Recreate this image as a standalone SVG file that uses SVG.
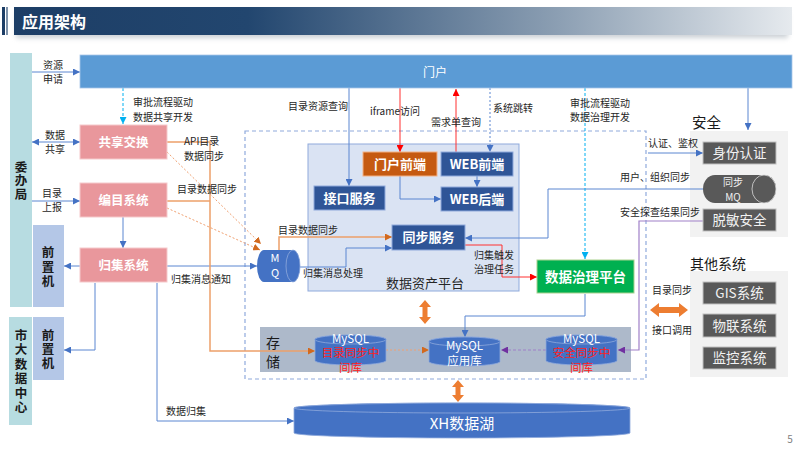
<svg xmlns="http://www.w3.org/2000/svg" width="800" height="450" viewBox="0 0 800 450">
<defs>
<linearGradient id="tg" x1="0" y1="0" x2="1" y2="0">
<stop offset="0" stop-color="#1d3e66"/>
<stop offset="0.3" stop-color="#22466f"/>
<stop offset="0.7" stop-color="#8c9fb3"/>
<stop offset="1" stop-color="#e6eaee"/>
</linearGradient>
<filter id="sh" x="-5%" y="-50%" width="110%" height="200%"><feGaussianBlur stdDeviation="2.5"/></filter>
<marker id="ab" viewBox="0 0 8 8" refX="8" refY="4" markerWidth="7" markerHeight="7" markerUnits="userSpaceOnUse" orient="auto-start-reverse"><path d="M0,0 L8,4 L0,8 z" fill="#4472c4"/></marker>
<marker id="ar" viewBox="0 0 8 8" refX="8" refY="4" markerWidth="7" markerHeight="7" markerUnits="userSpaceOnUse" orient="auto-start-reverse"><path d="M0,0 L8,4 L0,8 z" fill="#ff0000"/></marker>
<marker id="ac" viewBox="0 0 8 8" refX="8" refY="4" markerWidth="7" markerHeight="7" markerUnits="userSpaceOnUse" orient="auto-start-reverse"><path d="M0,0 L8,4 L0,8 z" fill="#00b0f0"/></marker>
<marker id="ao" viewBox="0 0 8 8" refX="8" refY="4" markerWidth="7" markerHeight="7" markerUnits="userSpaceOnUse" orient="auto-start-reverse"><path d="M0,0 L8,4 L0,8 z" fill="#d2691e"/></marker>
<marker id="ap" viewBox="0 0 8 8" refX="8" refY="4" markerWidth="7" markerHeight="7" markerUnits="userSpaceOnUse" orient="auto-start-reverse"><path d="M0,0 L8,4 L0,8 z" fill="#7030a0"/></marker>
<style>
text{font-family:"Noto Sans CJK SC","Noto Sans",sans-serif}
.lbl{font-size:10px;fill:#262626}
.pink{fill:#e9979c;stroke:#f5c9cb;stroke-width:1}
.pt{font-size:12.5px;font-weight:bold;fill:#fff;text-anchor:middle}
.dk{fill:#2f5597;stroke:#8faadc;stroke-width:1}
.dt{font-size:13px;font-weight:bold;fill:#fff;text-anchor:middle}
.gb{fill:#595959;stroke:#bfbfbf;stroke-width:1}
.gt{font-size:13.5px;fill:#f2f2f2;text-anchor:middle}
.vt{font-size:12.5px;font-weight:bold;fill:#1a1a1a;text-anchor:middle;writing-mode:vertical-rl}
.cyl{fill:#4472c4;stroke:#8faadc;stroke-width:0.8}
.my{font-size:11.5px;fill:#fff;text-anchor:middle}
.red{font-size:11.5px;fill:#ff2020;text-anchor:middle}
.lb{fill:none;stroke:#5b86d1;stroke-width:1}
.lr{fill:none;stroke:#ff3030;stroke-width:1}
.lc{fill:none;stroke:#00b0f0;stroke-width:1;stroke-dasharray:3,2}
.lo{fill:none;stroke:#eda06a;stroke-width:1.5}
.lod{fill:none;stroke:#f0a070;stroke-width:1;stroke-dasharray:2,2}
.lp{fill:none;stroke:#a080c8;stroke-width:1.2}
.oa{fill:#ed7d31}
</style>
</defs>
<rect width="800" height="450" fill="#ffffff"/>
<g id="title">
<rect x="16" y="12" width="772" height="26" fill="#9aa4ae" opacity="0.5" filter="url(#sh)"/>
<rect x="2" y="7" width="3" height="28" fill="#1d3e66"/>
<rect x="6" y="7" width="2" height="28" fill="#7f93aa"/>
<rect x="14" y="7" width="778" height="28" fill="url(#tg)"/>
<text x="22" y="28" font-size="16" font-weight="bold" fill="#ffffff">应用架构</text>
</g>
<g id="containers">
<rect id="outer" x="245" y="131" width="401" height="248" fill="none" stroke="#8faadc" stroke-width="1.2" stroke-dasharray="4,3"/>
<rect id="asset" x="308" y="144" width="211" height="147" fill="#dae3f3" stroke="#8faadc" stroke-width="1"/>
<text x="425" y="288" font-size="13" fill="#262626" text-anchor="middle">数据资产平台</text>
<rect id="storage" x="260" y="327" width="371" height="45" fill="#adb9ca"/>
<text x="273" y="348" font-size="14" fill="#1a1a1a" text-anchor="middle">存</text>
<text x="273" y="367" font-size="14" fill="#1a1a1a" text-anchor="middle">储</text>
<rect id="secbox" x="690" y="131" width="98" height="106" fill="#f2f2f2"/>
<text x="692" y="128" font-size="14.5" fill="#1a1a1a">安全</text>
<rect id="othbox" x="690" y="271" width="98" height="106" fill="#f2f2f2"/>
<text x="690" y="269" font-size="14" fill="#1a1a1a">其他系统</text>
</g>
<g id="connectors">
<path class="lb" d="M32,72 H80" marker-end="url(#ab)"/>
<path class="lb" d="M32,142 H80" marker-start="url(#ab)" marker-end="url(#ab)"/>
<path class="lb" d="M32,201 H80" marker-end="url(#ab)"/>
<path class="lb" d="M123,217 V248" marker-end="url(#ab)"/>
<path class="lb" d="M80,266 H64" marker-end="url(#ab)"/>
<path class="lb" d="M95,283 V350 H64" marker-end="url(#ab)"/>
<path class="lb" d="M167,266 H257" marker-end="url(#ab)"/>
<path class="lb" d="M157,283 V421 H294" marker-end="url(#ab)"/>
<path class="lb" d="M300,267 H346 V248 H392" marker-end="url(#ab)"/>
<path class="lb" d="M349,88 V186" marker-end="url(#ab)"/>
<path class="lb" d="M400,176 V199 H441" marker-end="url(#ab)"/>
<path class="lb" d="M477,176 V187" marker-end="url(#ab)"/>
<path class="lb" d="M703,189 H548 V238 H465" marker-end="url(#ab)"/>
<path class="lb" d="M648,153 H703" marker-end="url(#ab)"/>
<path class="lb" d="M748,88 V130" stroke="#8faadc" marker-end="url(#ab)"/>
<path class="lb" d="M490,88 V152" stroke-dasharray="2,2" marker-end="url(#ab)"/>
<path class="lb" d="M585,294 V316 H465 V337" stroke="#8faadc" marker-end="url(#ab)"/>
<path class="lr" d="M400,88 V152" marker-end="url(#ar)"/>
<path class="lr" d="M456,152 V89" marker-end="url(#ar)"/>
<path class="lr" d="M465,245 H502 V277 H537" marker-end="url(#ar)"/>
<path class="lc" d="M123,88 V124" marker-end="url(#ac)"/>
<path class="lc" d="M585,88 V259" marker-end="url(#ac)"/>
<path class="lo" d="M167,142 H210 V351 H315" marker-end="url(#ao)"/>
<path class="lo" d="M167,201 H210"/>
<path class="lo" d="M279,250 V237 H392" marker-end="url(#ao)"/>
<path class="lod" d="M167,152 L261,244" marker-end="url(#ao)"/>
<path class="lod" d="M167,208 L260,250" marker-end="url(#ao)"/>
<path class="lod" d="M386,350 H429" stroke-dasharray="3,2" marker-end="url(#ao)"/>
<path class="lp" d="M703,221 H639 V350 H618" marker-end="url(#ap)"/>
<path class="lp" d="M546,350 H501" stroke="#8a5cb8" stroke-dasharray="3,2" marker-end="url(#ap)"/>
<polygon class="oa" points="425,300 431,307 427.5,307 427.5,317 431,317 425,324 419,317 422.5,317 422.5,307 419,307"/>
<polygon class="oa" points="458,380 464,387 460.5,387 460.5,395 464,395 458,402 452,395 455.5,395 455.5,387 452,387"/>
<polygon class="oa" points="650,310 659,303 659,307 679,307 679,303 688,310 679,317 679,313 659,313 659,317"/>
</g>
<g id="labels">
<text class="lbl" x="53" y="69" text-anchor="middle">资源</text>
<text class="lbl" x="53" y="83" text-anchor="middle">申请</text>
<text class="lbl" x="55" y="139" text-anchor="middle">数据</text>
<text class="lbl" x="55" y="153" text-anchor="middle">共享</text>
<text class="lbl" x="52" y="197" text-anchor="middle">目录</text>
<text class="lbl" x="52" y="211" text-anchor="middle">上报</text>
<text class="lbl" x="133" y="106">审批流程驱动</text>
<text class="lbl" x="133" y="121">数据共享开发</text>
<text class="lbl" x="184" y="145">API目录</text>
<text class="lbl" x="184" y="160">数据同步</text>
<text class="lbl" x="177" y="193">目录数据同步</text>
<text class="lbl" x="171" y="283">归集消息通知</text>
<text class="lbl" x="166" y="415">数据归集</text>
<text class="lbl" x="278" y="234">目录数据同步</text>
<text class="lbl" x="303" y="277">归集消息处理</text>
<text class="lbl" x="288" y="110">目录资源查询</text>
<text class="lbl" x="370" y="115">iframe访问</text>
<text class="lbl" x="431" y="126">需求单查询</text>
<text class="lbl" x="493" y="112">系统跳转</text>
<text class="lbl" x="570" y="107">审批流程驱动</text>
<text class="lbl" x="570" y="121">数据治理开发</text>
<text class="lbl" x="648" y="147">认证、鉴权</text>
<text class="lbl" x="620" y="181">用户、组织同步</text>
<text class="lbl" x="620" y="216">安全探查结果同步</text>
<text class="lbl" x="474" y="259">归集触发</text>
<text class="lbl" x="474" y="273">治理任务</text>
<text class="lbl" x="652" y="294">目录同步</text>
<text class="lbl" x="652" y="334">接口调用</text>
</g>
<g id="n-weibanju">
<rect x="10" y="53" width="22" height="254" fill="#b7dce1"/>
<text class="vt" x="21" y="181" letter-spacing="1">委办局</text>
</g>
<g id="n-qianzhi1">
<rect x="33" y="225" width="31" height="82" fill="#b4c7e7"/>
<text class="vt" x="48" y="268" letter-spacing="2">前置机</text>
</g>
<g id="n-city">
<rect x="9" y="317" width="23" height="108" fill="#b7dce1"/>
<text class="vt" x="21" y="372" letter-spacing="2">市大数据中心</text>
</g>
<g id="n-qianzhi2">
<rect x="33" y="317" width="31" height="63" fill="#b4c7e7"/>
<text class="vt" x="48" y="350" letter-spacing="1.5">前置机</text>
</g>
<g id="n-portal">
<rect x="80" y="55" width="712" height="33" fill="#5b9bd5" stroke="#a9c6e8" stroke-width="0.8"/>
<text x="435" y="77" font-size="12" fill="#ffffff" text-anchor="middle">门户</text>
</g>
<g id="n-share"><rect class="pink" x="80" y="125" width="87" height="34"/><text class="pt" x="123.5" y="146.5">共享交换</text></g>
<g id="n-catalog"><rect class="pink" x="80" y="183" width="87" height="34"/><text class="pt" x="123.5" y="204.5">编目系统</text></g>
<g id="n-collect"><rect class="pink" x="80" y="248" width="87" height="34"/><text class="pt" x="123.5" y="269.5">归集系统</text></g>
<g id="n-mq">
<path d="M264,250 H293 A7,16 0 0 1 293,282 H264 A7,16 0 0 1 264,250 Z" fill="#4472c4"/>
<ellipse cx="293" cy="266" rx="7" ry="16" fill="#4472c4" stroke="#8faadc" stroke-width="0.8"/>
<text x="275" y="262" font-size="11" fill="#fff" text-anchor="middle">M</text>
<text x="275" y="277" font-size="11" fill="#fff" text-anchor="middle">Q</text>
</g>
<g id="n-portalfe"><rect x="363" y="152" width="74" height="24" fill="#c55a11" stroke="#f4b183" stroke-width="1"/><text class="dt" x="400" y="168.5">门户前端</text></g>
<g id="n-webfe"><rect class="dk" x="441" y="152" width="72" height="24"/><text class="dt" x="477" y="168.5">WEB前端</text></g>
<g id="n-webbe"><rect class="dk" x="441" y="187" width="72" height="24"/><text class="dt" x="477" y="203.5">WEB后端</text></g>
<g id="n-api"><rect class="dk" x="314" y="186" width="71" height="24"/><text class="dt" x="349.5" y="202.5">接口服务</text></g>
<g id="n-sync"><rect class="dk" x="392" y="225" width="73" height="25"/><text class="dt" x="428.5" y="242">同步服务</text></g>
<g id="n-gov"><rect x="537" y="260" width="97" height="33" fill="#00b050" stroke="#a9d18e" stroke-width="1"/><text x="585.5" y="281.5" font-size="13.5" font-weight="bold" fill="#fff" text-anchor="middle">数据治理平台</text></g>
<g id="n-db1">
<path class="cyl" d="M315,339.5 A35.5,4.5 0 0 1 386,339.5 V360.5 A35.5,4.5 0 0 1 315,360.5 Z"/>
<ellipse cx="350.5" cy="339.5" rx="35.5" ry="4.5" fill="#4472c4" stroke="#8faadc" stroke-width="0.8"/>
<text class="my" x="350.5" y="342.5">MySQL</text>
<text class="red" x="350.5" y="357">目录同步中</text>
<text class="red" x="350.5" y="371.5">间库</text>
</g>
<g id="n-db2">
<path class="cyl" d="M429,341.5 A35.5,4.5 0 0 1 500,341.5 V361.5 A35.5,4.5 0 0 1 429,361.5 Z"/>
<ellipse cx="464.5" cy="341.5" rx="35.5" ry="4.5" fill="#4472c4" stroke="#8faadc" stroke-width="0.8"/>
<text class="my" x="464.5" y="350">MySQL</text>
<text class="my" x="464.5" y="364.5" font-size="11">应用库</text>
</g>
<g id="n-db3">
<path class="cyl" d="M546,339.5 A35.5,4.5 0 0 1 617,339.5 V360.5 A35.5,4.5 0 0 1 546,360.5 Z"/>
<ellipse cx="581.5" cy="339.5" rx="35.5" ry="4.5" fill="#4472c4" stroke="#8faadc" stroke-width="0.8"/>
<text class="my" x="581.5" y="342.5">MySQL</text>
<text class="red" x="581.5" y="357">安全同步中</text>
<text class="red" x="581.5" y="371.5">间库</text>
</g>
<g id="n-lake">
<path class="cyl" d="M294,408 A168,5 0 0 1 630,408 V433 A168,5 0 0 1 294,433 Z"/>
<ellipse cx="462" cy="408" rx="168" ry="5" fill="#4472c4" stroke="#8faadc" stroke-width="0.8"/>
<text x="462" y="429" font-size="15" fill="#fff" text-anchor="middle">XH数据湖</text>
</g>
<g id="n-auth"><rect class="gb" x="703" y="142" width="73" height="22"/><text class="gt" x="739.5" y="158">身份认证</text></g>
<g id="n-syncmq">
<path d="M715,175 H764 A12,14 0 0 1 764,203 H715 A12,14 0 0 1 715,175 Z" fill="#595959"/>
<ellipse cx="764" cy="189" rx="12" ry="14" fill="#595959" stroke="#d9d9d9" stroke-width="0.8"/>
<text x="733" y="186" font-size="10" fill="#f2f2f2" text-anchor="middle">同步</text>
<text x="733" y="200.5" font-size="10" fill="#f2f2f2" text-anchor="middle">MQ</text>
</g>
<g id="n-mask"><rect class="gb" x="703" y="209" width="73" height="22"/><text class="gt" x="739.5" y="225">脱敏安全</text></g>
<g id="n-gis"><rect class="gb" x="703" y="282" width="73" height="22"/><text class="gt" x="739.5" y="298">GIS系统</text></g>
<g id="n-iot"><rect class="gb" x="703" y="314" width="73" height="23"/><text class="gt" x="739.5" y="330.5">物联系统</text></g>
<g id="n-mon"><rect class="gb" x="703" y="347" width="73" height="22"/><text class="gt" x="739.5" y="363">监控系统</text></g>
<text x="790" y="443" font-size="10" fill="#7f7f7f" text-anchor="middle">5</text>
</svg>
